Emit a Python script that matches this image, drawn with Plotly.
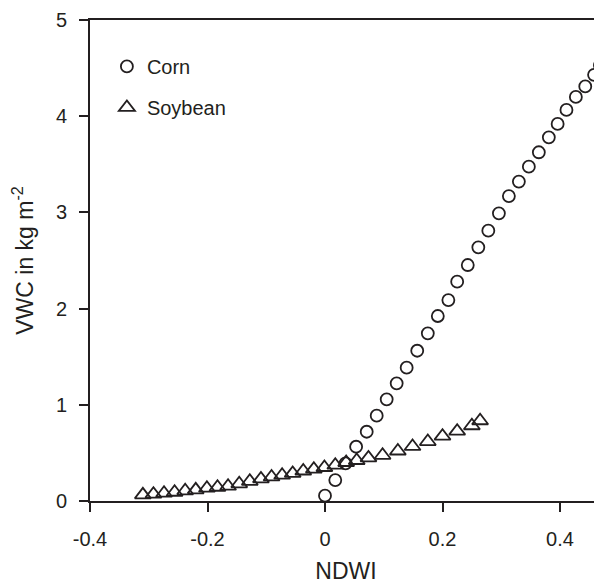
import plotly.graph_objects as go

# Corn (circles)
corn_ndwi = [0.000, 0.0175, 0.035, 0.053, 0.071, 0.088, 0.105, 0.122, 0.139, 0.157,
             0.175, 0.192, 0.210, 0.225, 0.243, 0.261, 0.278, 0.296, 0.313, 0.330,
             0.347, 0.364, 0.381, 0.396, 0.411, 0.427, 0.443, 0.458, 0.468, 0.476]
corn_vwc = [0.055, 0.218, 0.392, 0.564, 0.720, 0.887, 1.057, 1.223, 1.386, 1.562,
            1.743, 1.923, 2.089, 2.280, 2.453, 2.637, 2.810, 2.990, 3.170, 3.320,
            3.475, 3.625, 3.780, 3.920, 4.065, 4.200, 4.310, 4.430, 4.530, 4.660]

# Soybean (triangles)
soy_ndwi = [-0.310, -0.292, -0.274, -0.256, -0.238, -0.220, -0.201, -0.183, -0.165, -0.146,
            -0.128, -0.109, -0.091, -0.073, -0.055, -0.037, -0.019, -0.001, 0.0175, 0.036,
            0.054, 0.074, 0.098, 0.124, 0.149, 0.175, 0.200, 0.225, 0.250, 0.264]
soy_vwc = [0.064, 0.071, 0.081, 0.091, 0.106, 0.116, 0.133, 0.143, 0.154, 0.179,
           0.205, 0.230, 0.250, 0.268, 0.287, 0.312, 0.331, 0.348, 0.372, 0.400,
           0.421, 0.448, 0.475, 0.520, 0.567, 0.618, 0.674, 0.726, 0.782, 0.834]

x_ticks = [-0.4, -0.2, 0, 0.2, 0.4]
x_ticklabels = ["-0.4", "-0.2", "0", "0.2", "0.4"]
y_ticks = [0, 1, 2, 3, 4, 5]

ink = "#231f20"
font_family = "Liberation Sans, Arial, sans-serif"

fig = go.Figure()
fig.add_trace(go.Scatter(
    x=corn_ndwi, y=corn_vwc, mode="markers", name="Corn", legendgroup="corn",
    marker=dict(symbol="circle-open", size=12, color=ink, line=dict(width=1.8, color=ink)),
))
fig.add_trace(go.Scatter(
    x=soy_ndwi, y=soy_vwc, mode="markers", name="Soybean", legendgroup="soy",
    marker=dict(symbol="triangle-up-open", size=14, color=ink, line=dict(width=1.8, color=ink)),
))

# The page body has an 8px margin, so the figure is sized to fit the 602x584 window.
fig.update_layout(
    width=594, height=576,
    margin=dict(l=82, r=0, t=12, b=83, autoexpand=False),
    paper_bgcolor="white", plot_bgcolor="white",
    font=dict(family=font_family, size=20, color=ink),
    showlegend=True,
    legend=dict(x=0.033, y=0.944, xanchor="left", yanchor="top",
                bgcolor="rgba(0,0,0,0)", font=dict(size=20, color=ink),
                tracegroupgap=12, traceorder="grouped"),
    xaxis=dict(
        range=[-0.4, 0.4715], tickvals=x_ticks, ticktext=x_ticklabels,
        showgrid=False, zeroline=False, showline=True, linecolor=ink, linewidth=2,
        mirror=True, ticks="outside", ticklen=9, tickwidth=1.5, tickcolor=ink,
        ticklabelstandoff=10, automargin=False,
        title=dict(text="NDWI", font=dict(size=23, color=ink), standoff=27),
    ),
    yaxis=dict(
        range=[0, 5], tickvals=y_ticks,
        showgrid=False, zeroline=False, showline=True, linecolor=ink, linewidth=2,
        ticks="outside", ticklen=9, tickwidth=1.5, tickcolor=ink,
        ticklabelstandoff=8, automargin=False,
        title=dict(text="VWC in kg m<sup>-2</sup>", font=dict(size=23, color=ink), standoff=19),
    ),
)

fig.write_html("out.html")
